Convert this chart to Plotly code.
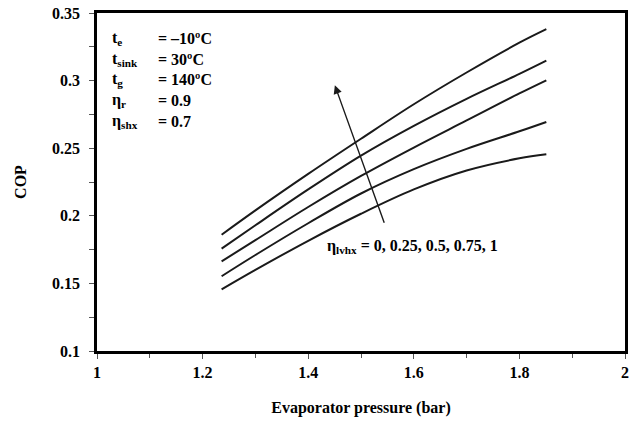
import plotly.graph_objects as go

# Evaporator pressure (bar)
pressure = [1.236, 1.3, 1.4, 1.5, 1.6, 1.7, 1.8, 1.851]

# COP for eta_lvhx = 0, 0.25, 0.5, 0.75, 1
cop_0 = [0.1456, 0.160, 0.1815, 0.2015, 0.2195, 0.2335, 0.2425, 0.2455]
cop_025 = [0.1553, 0.171, 0.1945, 0.2165, 0.2345, 0.2495, 0.2625, 0.2694]
cop_05 = [0.1663, 0.182, 0.2065, 0.2295, 0.2505, 0.2705, 0.2905, 0.3002]
cop_075 = [0.1757, 0.193, 0.2195, 0.2445, 0.2665, 0.2865, 0.305, 0.3148]
cop_1 = [0.186, 0.204, 0.231, 0.257, 0.2825, 0.306, 0.328, 0.338]

series = [cop_0, cop_025, cop_05, cop_075, cop_1]

param_labels = ["t<sub>e</sub>", "t<sub>sink</sub>", "t<sub>g</sub>", "η<sub>r</sub>", "η<sub>shx</sub>"]
param_values = ["= –10ºC", "= 30ºC", "= 140ºC", "= 0.9", "= 0.7"]

FONT = "Liberation Serif"

fig = go.Figure()
for s in series:
    fig.add_trace(go.Scatter(x=pressure, y=s, mode="lines",
                             line=dict(color="#1a1a1a", width=2, shape="spline", smoothing=1.0),
                             showlegend=False, hoverinfo="skip"))

# parameter block
row_y = [38, 59, 79, 100, 121]
plot_top, plot_bot = 12.5, 350.7
for lab, val, py in zip(param_labels, param_values, row_y):
    yp = 1 - (py - plot_top) / (plot_bot - plot_top)
    fig.add_annotation(xref="paper", yref="paper", x=(110 - 97) / 528, y=yp, text=lab, showarrow=False,
                       xanchor="left", yanchor="middle", font=dict(family=FONT, size=16, color="black", weight="bold"))
    fig.add_annotation(xref="paper", yref="paper", x=(156 - 97) / 528, y=yp, text=val, showarrow=False,
                       xanchor="left", yanchor="middle", font=dict(family=FONT, size=16, color="black", weight="bold"))

# arrow
fig.add_annotation(x=1.4505, y=0.2965, ax=1.545, ay=0.1937, xref="x", yref="y", axref="x", ayref="y",
                   text="", showarrow=True, arrowhead=2, arrowsize=1.2, arrowwidth=1.4, arrowcolor="#1a1a1a")

fig.add_annotation(x=1.432, y=0.1773, xref="x", yref="y", text="η<sub>lvhx</sub> = 0, 0.25, 0.5, 0.75, 1",
                   showarrow=False, xanchor="left", yanchor="middle",
                   font=dict(family=FONT, size=16, color="black", weight="bold"))

fig.update_layout(
    width=638, height=421,
    margin=dict(l=97, r=13, t=12.5, b=70.3),
    paper_bgcolor="white", plot_bgcolor="white",
    font=dict(family=FONT, color="black", size=16, weight="bold"),
    xaxis=dict(range=[1, 2], dtick=0.2, tick0=1, showgrid=False, zeroline=False, automargin=False,
               showline=True, linewidth=2.5, linecolor="black", mirror=True,
               ticks="outside", ticklen=5, tickwidth=1, tickcolor="#555", ticklabeloverflow="allow",
               minor=dict(dtick=0.1, ticks="outside", ticklen=4, tickcolor="#555", showgrid=False),
               tickfont=dict(family=FONT, size=16, weight="bold"),
               title=dict(text="Evaporator pressure (bar)", font=dict(family=FONT, size=16, weight="bold"), standoff=22)),
    yaxis=dict(range=[0.1, 0.35], dtick=0.05, tick0=0.1, showgrid=False, zeroline=False, automargin=False,
               showline=True, linewidth=2.5, linecolor="black", mirror=True,
               ticks="outside", ticklen=5, tickwidth=1, tickcolor="#555", ticklabeloverflow="allow",
               minor=dict(dtick=0.025, ticks="outside", ticklen=5, tickcolor="#555", showgrid=False),
               tickfont=dict(family=FONT, size=16, weight="bold"), ticklabelstandoff=6,
               title=dict(text="COP", font=dict(family=FONT, size=16, weight="bold"), standoff=22)),
)

# remove the browser's default 8px body margin so the figure sits at the window's top-left corner
fig.write_html("out.html", config={"displayModeBar": False},
               post_script="document.body.style.margin='0';")
